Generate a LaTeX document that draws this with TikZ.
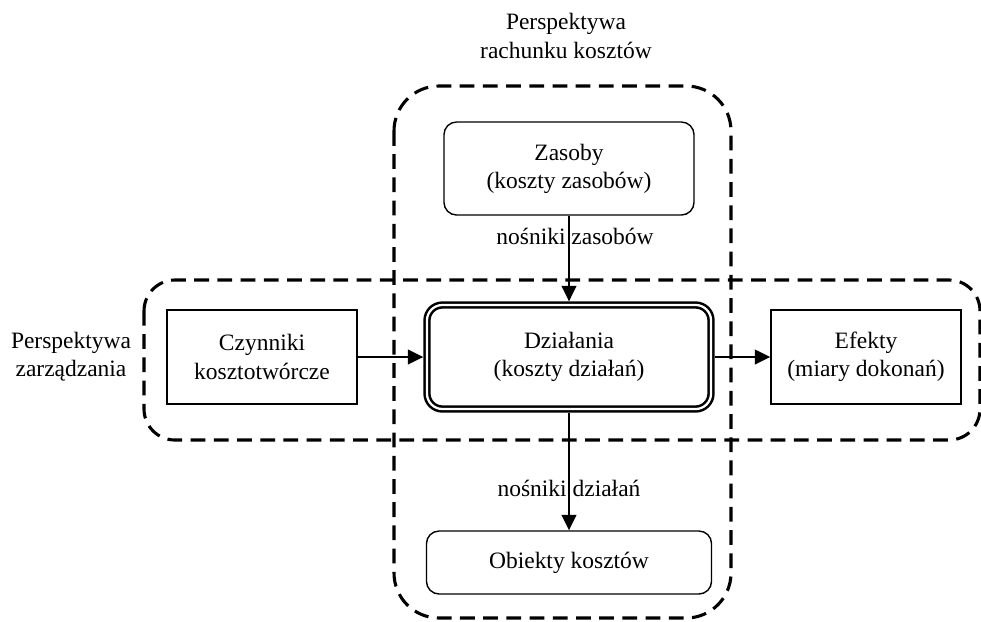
\documentclass[tikz,border=0pt]{standalone}
\usepackage{fontspec}
\setmainfont{Liberation Serif}
\newfontfamily\diagfont{Liberation Serif}
\usetikzlibrary{arrows.meta,positioning}
\tikzset{
  pbox/.style={draw,line width=1pt,align=center,inner sep=2pt,fill=white},
  rbox/.style={pbox,rounded corners=9pt},
  mbox/.style={rbox,double,line width=1.8pt,double distance=1.6pt,outer sep=2.6pt,rounded corners=11pt},
  persp/.style={draw,dashed,line width=2.2pt,dash pattern=on 10.5pt off 6pt,rounded corners=#1},
  plabel/.style={align=center},
  farrow/.style={-{Triangle[length=11pt,width=10.5pt]},line width=1.1pt},
}
\begin{document}
\begin{tikzpicture}[x=0.025cm,y=-0.025cm,
  every node/.style={font=\diagfont\fontsize{16.7pt}{20pt}\selectfont}]
  \useasboundingbox (0,0) rectangle (981,621);
  % perspectives
  \draw[persp=32pt] (394,86) rectangle (731,618);
  \draw[persp=22pt] (144,280) rectangle (980,440);
  \node[plabel] (prk) at (566,36) {Perspektywa\\rachunku kosztów};
  \node[plabel] (pzr) at (71,357) {Perspektywa\\zarządzania};
  % boxes
  \node[rbox,minimum width=6.25cm,minimum height=2.325cm] (zas) at (569,168.5) {Zasoby\\(koszty zasobów)};
  \node[mbox,minimum width=7.1cm,minimum height=2.6cm] (dzi) at (569,357) {Działania\\(koszty działań)};
  \node[pbox,minimum width=4.75cm,minimum height=2.35cm] (czy) at (262,357) {Czynniki\\kosztotwórcze};
  \node[pbox,minimum width=4.75cm,minimum height=2.35cm] (efk) at (866,357) {Efekty\\(miary dokonań)};
  \node[rbox,minimum width=7.125cm,minimum height=1.575cm] (obk) at (569,562.5) {Obiekty kosztów};
  % flows
  \draw[farrow] (zas) -- node[pos=0.24,xshift=0.15cm]{nośniki zasobów} (dzi);
  \draw[farrow] (dzi) -- node[pos=0.64]{nośniki działań} (obk);
  \draw[farrow] (czy) -- (dzi);
  \draw[farrow] (dzi) -- (efk);
\end{tikzpicture}
\end{document}
